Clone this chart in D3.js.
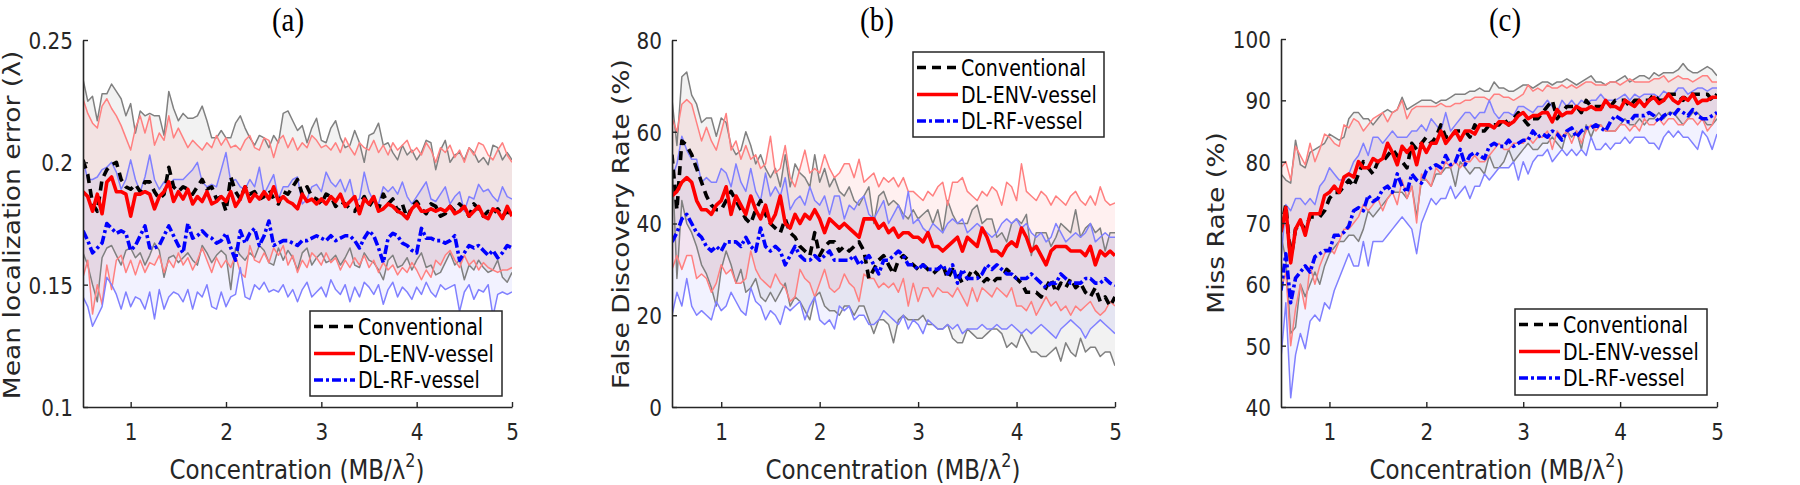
<!DOCTYPE html>
<html lang="en">
<head>
<meta charset="UTF-8">
<title>Localization error, FDR and miss rate</title>
<style>
  body { margin: 0; background: #fff; }
  svg { display: block; }
</style>
</head>
<body>
<svg id="SVG"></svg>
<script src="https://d3js.org/d3.v7.min.js"></script>
<script>
// concentration grid (MB/λ²), one value every 0.05
var conc = [
  0.50,0.55,0.60,0.65,0.70,0.75,0.80,0.85,0.90,0.95,
  1.00,1.05,1.10,1.15,1.20,1.25,1.30,1.35,1.40,1.45,
  1.50,1.55,1.60,1.65,1.70,1.75,1.80,1.85,1.90,1.95,
  2.00,2.05,2.10,2.15,2.20,2.25,2.30,2.35,2.40,2.45,
  2.50,2.55,2.60,2.65,2.70,2.75,2.80,2.85,2.90,2.95,
  3.00,3.05,3.10,3.15,3.20,3.25,3.30,3.35,3.40,3.45,
  3.50,3.55,3.60,3.65,3.70,3.75,3.80,3.85,3.90,3.95,
  4.00,4.05,4.10,4.15,4.20,4.25,4.30,4.35,4.40,4.45,
  4.50,4.55,4.60,4.65,4.70,4.75,4.80,4.85,4.90,4.95,
  5.00];

// ---------- (a) mean localization error (λ) ----------
var locConv = [
  0.201,0.195,0.183,0.180,0.193,0.197,0.199,0.200,0.193,0.190,
  0.189,0.191,0.188,0.192,0.192,0.188,0.185,0.187,0.198,0.190,
  0.188,0.190,0.189,0.187,0.190,0.193,0.189,0.190,0.185,0.186,
  0.180,0.194,0.188,0.185,0.190,0.187,0.188,0.185,0.186,0.189,
  0.185,0.183,0.188,0.187,0.190,0.193,0.187,0.190,0.186,0.185,
  0.183,0.187,0.186,0.182,0.184,0.183,0.181,0.180,0.183,0.186,
  0.182,0.185,0.181,0.187,0.183,0.185,0.180,0.183,0.177,0.182,
  0.184,0.181,0.179,0.183,0.182,0.178,0.179,0.182,0.180,0.183,
  0.181,0.178,0.183,0.181,0.178,0.180,0.179,0.181,0.178,0.180,
  0.178];
var locConvHi = [
  0.234,0.225,0.227,0.217,0.228,0.228,0.232,0.229,0.226,0.219,
  0.224,0.212,0.221,0.219,0.220,0.219,0.219,0.211,0.229,0.222,
  0.217,0.220,0.218,0.218,0.219,0.223,0.217,0.210,0.210,0.213,
  0.210,0.210,0.216,0.219,0.214,0.210,0.207,0.211,0.210,0.206,
  0.211,0.208,0.220,0.221,0.217,0.213,0.215,0.208,0.214,0.218,
  0.209,0.208,0.214,0.217,0.210,0.206,0.207,0.213,0.208,0.200,
  0.211,0.212,0.216,0.207,0.208,0.204,0.201,0.207,0.203,0.205,
  0.201,0.204,0.209,0.208,0.197,0.205,0.209,0.200,0.203,0.204,
  0.201,0.206,0.204,0.200,0.202,0.199,0.207,0.206,0.201,0.204,
  0.201];
var locConvLo = [
  0.163,0.158,0.150,0.143,0.161,0.165,0.166,0.162,0.158,0.164,
  0.165,0.161,0.163,0.158,0.162,0.167,0.164,0.153,0.161,0.162,
  0.159,0.161,0.163,0.160,0.158,0.166,0.163,0.159,0.162,0.164,
  0.162,0.148,0.165,0.162,0.160,0.163,0.161,0.166,0.164,0.159,
  0.158,0.165,0.160,0.164,0.161,0.156,0.163,0.165,0.158,0.161,
  0.163,0.159,0.160,0.162,0.158,0.161,0.165,0.158,0.157,0.163,
  0.160,0.159,0.156,0.152,0.160,0.162,0.157,0.158,0.161,0.156,
  0.160,0.163,0.157,0.158,0.154,0.155,0.159,0.163,0.158,0.160,
  0.152,0.158,0.156,0.160,0.157,0.155,0.156,0.160,0.153,0.151,
  0.155];
var locEnv = [
  0.188,0.186,0.180,0.187,0.179,0.192,0.194,0.188,0.188,0.187,
  0.178,0.187,0.187,0.188,0.187,0.181,0.186,0.188,0.192,0.184,
  0.188,0.185,0.189,0.183,0.186,0.184,0.188,0.183,0.184,0.186,
  0.184,0.188,0.182,0.185,0.190,0.184,0.187,0.185,0.188,0.185,
  0.190,0.184,0.186,0.184,0.183,0.181,0.187,0.184,0.185,0.183,
  0.185,0.183,0.186,0.184,0.187,0.182,0.184,0.186,0.179,0.185,
  0.183,0.186,0.180,0.181,0.183,0.182,0.180,0.179,0.177,0.181,
  0.183,0.180,0.180,0.181,0.180,0.181,0.180,0.182,0.179,0.180,
  0.182,0.178,0.180,0.182,0.178,0.177,0.181,0.180,0.177,0.182,
  0.178];
var locEnvHi = [
  0.226,0.220,0.216,0.214,0.223,0.226,0.222,0.219,0.215,0.210,
  0.205,0.214,0.219,0.212,0.219,0.207,0.212,0.209,0.219,0.210,
  0.214,0.210,0.206,0.209,0.207,0.205,0.208,0.206,0.211,0.207,
  0.210,0.206,0.207,0.205,0.209,0.211,0.206,0.205,0.210,0.209,
  0.202,0.209,0.211,0.206,0.210,0.205,0.208,0.206,0.211,0.209,
  0.206,0.207,0.205,0.208,0.204,0.210,0.206,0.203,0.208,0.206,
  0.205,0.209,0.204,0.207,0.203,0.208,0.205,0.207,0.209,0.204,
  0.206,0.203,0.208,0.205,0.200,0.206,0.204,0.207,0.202,0.205,
  0.200,0.206,0.203,0.208,0.207,0.203,0.201,0.205,0.208,0.203,
  0.200];
var locEnvLo = [
  0.153,0.160,0.138,0.150,0.142,0.158,0.148,0.160,0.162,0.155,
  0.160,0.154,0.160,0.155,0.159,0.158,0.162,0.155,0.160,0.157,
  0.163,0.158,0.161,0.156,0.160,0.165,0.160,0.155,0.161,0.157,
  0.160,0.157,0.162,0.155,0.153,0.166,0.160,0.159,0.163,0.159,
  0.165,0.162,0.166,0.158,0.162,0.155,0.160,0.157,0.163,0.161,
  0.158,0.163,0.159,0.161,0.156,0.160,0.157,0.161,0.158,0.162,
  0.157,0.160,0.155,0.159,0.156,0.158,0.154,0.157,0.155,0.159,
  0.156,0.152,0.156,0.153,0.160,0.158,0.162,0.164,0.160,0.157,
  0.162,0.158,0.160,0.156,0.159,0.157,0.156,0.155,0.156,0.156,
  0.157];
var locRf = [
  0.172,0.168,0.163,0.165,0.167,0.175,0.173,0.171,0.172,0.171,
  0.164,0.166,0.170,0.174,0.165,0.165,0.166,0.170,0.174,0.170,
  0.166,0.163,0.175,0.169,0.170,0.172,0.170,0.169,0.167,0.168,
  0.171,0.165,0.160,0.172,0.167,0.171,0.173,0.166,0.170,0.176,
  0.166,0.167,0.168,0.168,0.167,0.166,0.168,0.168,0.169,0.170,
  0.169,0.168,0.170,0.168,0.169,0.170,0.170,0.168,0.165,0.169,
  0.172,0.170,0.165,0.159,0.169,0.171,0.170,0.167,0.166,0.164,
  0.163,0.173,0.169,0.169,0.168,0.168,0.167,0.168,0.170,0.160,
  0.163,0.166,0.165,0.166,0.164,0.162,0.164,0.161,0.163,0.166,
  0.165];
var locRfHi = [
  0.201,0.193,0.193,0.194,0.197,0.198,0.200,0.196,0.189,0.193,
  0.201,0.193,0.188,0.194,0.203,0.193,0.189,0.192,0.190,0.193,
  0.193,0.193,0.195,0.197,0.200,0.192,0.190,0.191,0.190,0.197,
  0.204,0.192,0.193,0.190,0.189,0.193,0.190,0.198,0.187,0.191,
  0.195,0.185,0.190,0.190,0.193,0.194,0.183,0.185,0.190,0.191,
  0.188,0.196,0.192,0.190,0.193,0.188,0.193,0.184,0.185,0.196,
  0.188,0.184,0.183,0.190,0.188,0.190,0.187,0.192,0.186,0.183,
  0.186,0.189,0.192,0.185,0.184,0.187,0.190,0.183,0.186,0.188,
  0.180,0.186,0.185,0.191,0.188,0.189,0.186,0.184,0.190,0.186,
  0.185];
var locRfLo = [
  0.145,0.141,0.133,0.137,0.141,0.153,0.150,0.146,0.140,0.147,
  0.141,0.145,0.144,0.140,0.147,0.136,0.148,0.140,0.145,0.147,
  0.146,0.143,0.148,0.140,0.147,0.145,0.150,0.141,0.140,0.147,
  0.141,0.145,0.146,0.157,0.145,0.144,0.150,0.148,0.151,0.147,
  0.148,0.147,0.150,0.145,0.148,0.143,0.148,0.151,0.145,0.147,
  0.149,0.145,0.152,0.148,0.146,0.150,0.143,0.149,0.145,0.151,
  0.149,0.146,0.150,0.142,0.148,0.151,0.145,0.149,0.147,0.144,
  0.149,0.146,0.151,0.147,0.145,0.150,0.148,0.149,0.150,0.139,
  0.147,0.150,0.144,0.148,0.147,0.150,0.137,0.146,0.147,0.146,
  0.147];

// ---------- (b) false discovery rate (%) ----------
var fdrConv = [
  55,43,58,57,55,52,49,46,44,43,
  43,45,47,45,43,41,40,43,45,42,
  40,39,38,41,38,37,35,34,33,38,
  33,35,36,36,34,35,34,35,36,34,
  28,30,32,33,31,29,32,33,32,31,
  30,31,30,29,30,31,28,30,29,27,
  28,30,29,27,28,27,28,28,30,29,
  28,27,25,25,25,24,26,28,25,27,
  26,28,26,27,25,24,26,23,24,22,
  24];
var fdrConvHi = [
  67,57,72,73,68,66,62,63,63,59,
  63,62,57,55,56,60,57,53,55,52,
  50,52,48,55,48,53,51,50,48,55,
  49,52,48,50,47,46,48,45,44,46,
  48,40,46,47,44,45,44,42,41,43,
  41,42,43,40,43,38,45,42,40,40,
  40,43,44,40,41,41,37,38,36,40,
  41,40,42,33,38,38,38,35,37,40,
  39,38,43,37,39,40,38,39,34,38,
  38];
var fdrConvLo = [
  55,28,45,40,38,35,31,29,26,22,
  30,34,31,27,30,25,26,28,24,23,
  25,23,25,27,22,24,23,21,19,24,
  25,22,21,21,20,22,22,20,22,22,
  19,16,19,19,18,14,19,20,19,19,
  19,20,18,18,17,17,18,15,14,14,
  17,16,15,15,16,17,17,16,13,14,
  13,16,14,12,12,11,11,12,13,10,
  14,12,11,15,12,13,13,11,12,12,
  9];
var fdrEnv = [
  46,47,49,50,49,45,43,43,42,44,
  45,48,42,46,44,42,46,43,41,44,
  40,42,46,40,39,42,40,42,41,43,
  41,38,41,40,39,40,39,38,37,41,
  41,41,39,40,38,39,37,38,38,37,
  37,36,38,35,35,34,35,36,37,34,
  37,36,35,39,37,34,34,33,35,36,
  35,39,37,34,35,33,31,34,35,35,
  35,34,34,34,33,35,31,34,33,34,
  33];
var fdrEnvHi = [
  63,60,66,67,66,62,58,61,58,56,
  60,64,56,58,54,57,54,55,52,53,
  59,51,52,57,50,48,52,56,51,52,
  51,55,52,50,51,53,53,50,54,49,
  50,51,48,50,49,50,48,50,47,47,
  46,45,47,46,48,49,44,49,49,50,
  47,46,45,47,46,48,47,44,49,48,
  45,53,47,46,45,47,46,44,46,45,
  44,46,47,45,44,46,44,48,45,44,
  44.5];
var fdrEnvLo = [
  30,33,30,33,33,28,29,28,25,27,
  31,29,30,27,27,28,34,30,28,27,
  26,29,27,26,23,24,30,28,27,24,
  27,30,26,25,26,29,27,26,23,29,
  28,28,26,27,26,27,25,28,22,27,
  23,26,26,24,26,25,25,24,26,24,
  22,26,23,26,25,24,26,25,24,26,
  22,22,21,23,20,22,24,22,23,21,
  22,20,22,21,22,23,21,20,21,23,
  22];
var fdrRf = [
  36,38,41,42,40,38,37,35,34,35,
  34,36,36,36,35,37,35,34,39,35,
  34,35,34,31,33,35,33,32,32,33,
  32,33,34,32,32,32,32,33,31,32,
  33,31,29,32,32,33,34,33,31,31,
  30,31,30,30,30,31,29,31,27,30,
  28,28,28,29,31,30,31,30,29,29,
  28,28,28,29,28,27,26,27,27,29,
  28,27,27,27,28,28,27,27,28,27,
  26.5];
var fdrRfHi = [
  50,53,59,56,54,54,49,50,49,49,
  52,51,48,53,49,47,52,47,45,51,
  46,48,46,50,43,45,46,44,48,45,
  44,46,42,46,46,41,44,43,45,46,
  42,41,43,45,40,42,44,41,47,40,
  41,39,38,40,39,38,40,41,40,41,
  38,39,40,39,38,37,38,40,41,40,
  41,39,40,38,37,38,36,37,40,38,
  36,37,38,37,38,40,36,37,38,37,
  37];
var fdrRfLo = [
  20,25,22,28,22,20,21,20,19,23,
  21,22,25,23,21,20,26,23,22,19,
  21,20,18,22,21,22,23,19,22,24,
  19,18,19,17,22,21,22,19,20,20,
  18,18,19,21,20,19,18,20,17,19,
  18,16,19,18,17,17,18,17,18,16,
  17,17,17,18,17,17,18,17,17,18,
  17,16,17,16,17,18,17,16,15,17,
  18,19,18,17,15,17,18,19,18,17,
  16];

// ---------- (c) miss rate (%) ----------
var missConv = [
  69,73,64,69,70,69,71,71,71,72,
  74,75,75,76,77,76,78,80,79,78,
  80,80,81,82,81,80,79,83,82,83,
  84,83,84,86,84,84,85,85,85,84,
  86,85,85,86,86,86,87,86,87,88,
  87,86,87,87,88,89,90,87,88,89,
  89,89,88,90,89,89,89,89,89,90,
  90,90,89,90,90,90,90,91,90,90,
  91,91,91,90,91,91,91,91,91,90,
  91];
var missConvHi = [
  78,77,76.5,83.5,79.5,79,81.5,82,82.5,83,
  84.5,84,83.5,84,87,88,88,87,87,86,
  87,88,88.5,88,88.5,90.5,88.5,89,89.5,90,
  90,90,89.5,90,90,90.5,91,91,91,91.5,
  91.5,92,91.5,91.5,93,92,92,91.5,91.5,92,
  92.5,92.5,92,92.5,93,93,92.5,93,93,93.5,
  93,92.5,93,93.5,94,93,93,92.5,93,93,
  93.5,94,93,93.5,94,94,93.5,94.5,94,94.5,
  94.5,94.5,95,96,95,94.5,94.5,95,95.5,95,
  94];
var missConvLo = [
  68,64,52,53,60,58,60,62,60,63,
  65,66,67,67,68,68,67,69,72,71,
  72,73,74,75,75,75,74,76,71,77,
  77,76,78,78,79,79,76,80,79,78,
  79,79,78,81,79,79,80,82,80,81,
  82,83,82,82,83,83,84,83,82,85,
  84,85,82,86,84,86,86,85,85,85,
  86,87,86,86,87,86,87,87,88,87,
  88,88,87,86,87,88,88,87,86,86,
  87];
var missEnv = [
  68.5,72.5,63.5,69,70.5,68,71.5,71.5,71.5,74.5,
  75,76,75,77.5,78,77.5,80,79,79,80.5,
  80,80.5,83,81.5,79.5,82.5,81.5,82.5,79.5,83,
  81.5,83,83,85,83,84,85,83.5,85,85,
  84.5,86,86,86,85.5,86.5,86.5,86,86.5,87.5,
  88,87,87.5,87.5,88,88,86.5,88.5,87.5,88,
  88,89,88.5,88.5,89,88.5,88.5,90,89,89,
  88.5,90,89.5,89,90,89,90,90.5,89.5,90,
  91,90,89.5,90.5,90,91,89.5,90,90,90.5,
  90.5];
var missEnvHi = [
  79,80,77,82.5,81,79.5,83,80,82,84.5,
  84,83,82.5,86,85.5,87,86.5,85,86,87,
  87.5,88,86.5,88,88.5,90,87,88.5,89,89,
  89,89,89,89.5,89,89,89.5,89.5,90,90,
  90.5,90.5,90.5,90,91,91,90.5,90.5,90,90.5,
  91,92.5,91.5,92,91.5,92.5,92,92,92.5,92,
  92.5,92,92.5,93,93,92.5,92.5,92.5,93,93,
  92.5,93,93.5,93,93,93,93,93.5,93.5,94,
  93,93.5,94,93.5,93.5,93,93.5,94,94,93,
  93];
var missEnvLo = [
  59,62,50,56,60,56,63,60,63,65,
  66,65,67,69,69,70,71,73,72,73,
  74,72,74,75,73,77,74,76,70,78,
  77,76,79,78,80,79,80,79,80,80,
  81,80,80,81,82,83,82,82,83,83,
  83,84,83,84,84,85,82,85,84,85,
  83,85,83,85,86,85,86,85,85,85,
  86,86,85,86,85,87,86,86,87,86,
  87,87,86,86,87,87,86,87,85,86,
  88];
var missRf = [
  59,65,57,61,62,63,62,64.5,65,65.5,
  65.5,68,68,68.5,69.5,72,72.5,72,74.5,73.5,
  74,75.5,76,75,78,76,75,78,77,76.5,
  78.5,79,79.5,79,81,79.5,80,82,79.5,81,
  81.5,81,80.5,82.5,83,82.5,82.5,83.5,82.5,83,
  83.5,83.5,85,84,84.5,84,85,84.5,83.5,85,
  85.5,84,85,85.5,85.5,86,85.5,85,86.5,87.5,
  87,86.5,86.5,87.5,87.5,87.5,88,87.5,86.5,87.5,
  88,87.5,88.5,88,87.5,88.5,87.5,87,87,87.5,
  88];
var missRfHi = [
  64,73,72,74,74,73,74,73,76,77,
  79,78,77,77,78,80,81,83,81,84,
  84,83,84,85,84,84,84,85,85,86,
  85,87,86,85,88,85,86,87,88,88,
  87,88,88,90,88,87,88,88,87.5,89,
  89,88.5,88,89,89,90,89,88,90,89,
  90,89,90,89.5,90,90,91,90,90,90,
  90.5,91,90,91,90.5,91,91,91,90.5,91.5,
  91,91,92,92,91,91.5,92,92,91.5,92,
  92];
var missRfLo = [
  48,57,41.5,48.5,52,49.5,54,55,54,57,
  56,59,61,63,65,63,63,67,63,67,
  67,67,68,69,70,71,70,69,65,70,
  72,74,73,74,74,76,74,75,76,74,
  76,76,78,77,78,79,79,79,80,77,
  80,78,80,81,81,82,80,81,82,81,
  82,81,82,81,84,82,82,83,82,83,
  83,84,83,84,84,84,83,83,82,84,
  85,84,85,84,84,83,82,85,84,82,
  84.5];

// tick labels and texts
var xTicks = [1, 2, 3, 4, 5];
var yTicksA = [0.1, 0.15, 0.2, 0.25];
var yTicksB = [0, 20, 40, 60, 80];
var yTicksC = [40, 50, 60, 70, 80, 90, 100];
var methodNames = ["Conventional", "DL-ENV-vessel", "DL-RF-vessel"];
var panelTitles = ["(a)", "(b)", "(c)"];
var yAxisLabels = ["Mean localization error (λ)", "False Discovery Rate (%)", "Miss Rate (%)"];

// ---------- drawing ----------
var SY = 1.18;            // the exported figure is stretched vertically, text too
var ink = "#262626";

var styles = [
    { mean: "#000000", bound: "#808080", fill: "#808080", op: 0.10, dash: "9,6" },
    { mean: "#ff0000", bound: "#ff8080", fill: "#ff0000", op: 0.06, dash: null },
    { mean: "#0000ff", bound: "#8080ff", fill: "#0000ff", op: 0.05, dash: "9,3,3,3" }
];

var panels = [
    { left: 83, right: 512, top: 40, bottom: 407, domain: [0.1, 0.25], ticks: yTicksA,
      titleX: 288, xLabelX: 297, yLabelX: 20, yLabelY: 225,
      legend: { x: 310, y: 311, w: 192, h: 85 },
      series: [[locConv, locConvLo, locConvHi], [locEnv, locEnvLo, locEnvHi], [locRf, locRfLo, locRfHi]] },
    { left: 672, right: 1115, top: 40, bottom: 407, domain: [0, 80], ticks: yTicksB,
      titleX: 877, xLabelX: 893, yLabelX: 629, yLabelY: 224,
      legend: { x: 913, y: 52, w: 191, h: 85 },
      series: [[fdrConv, fdrConvLo, fdrConvHi], [fdrEnv, fdrEnvLo, fdrEnvHi], [fdrRf, fdrRfLo, fdrRfHi]] },
    { left: 1281, right: 1717, top: 39, bottom: 407, domain: [40, 100], ticks: yTicksC,
      titleX: 1505, xLabelX: 1497, yLabelX: 1224, yLabelY: 223,
      legend: { x: 1515, y: 309, w: 192, h: 86 },
      series: [[missConv, missConvLo, missConvHi], [missEnv, missEnvLo, missEnvHi], [missRf, missRfLo, missRfHi]] }
];

var svg = d3.select("#SVG")
    .attr("width", 1800)
    .attr("height", 485)
    .style("font-family", "'DejaVu Sans', sans-serif");

panels.forEach(function (p, k) {
    var x = d3.scaleLinear().domain([0.5, 5]).range([p.left, p.right]);
    var y = d3.scaleLinear().domain(p.domain).range([p.bottom, p.top]);

    var g = svg.append("g");

    g.append("clipPath").attr("id", "clip" + k)
        .append("rect")
        .attr("x", p.left).attr("y", p.top)
        .attr("width", p.right - p.left).attr("height", p.bottom - p.top);

    var plot = g.append("g").attr("clip-path", "url(#clip" + k + ")");

    var area = d3.area()
        .x((d, i) => x(conc[i]))
        .y0(d => y(d[0]))
        .y1(d => y(d[1]));
    var line = d3.line()
        .x((d, i) => x(conc[i]))
        .y(d => y(d));

    // shaded bands first
    p.series.forEach(function (s, j) {
        plot.append("path")
            .datum(d3.zip(s[1], s[2]))
            .attr("d", area)
            .attr("fill", styles[j].fill)
            .attr("fill-opacity", styles[j].op)
            .attr("stroke", "none");
    });

    // thin upper / lower bounds
    p.series.forEach(function (s, j) {
        [s[1], s[2]].forEach(function (b) {
            plot.append("path")
                .datum(b)
                .attr("d", line)
                .attr("fill", "none")
                .attr("stroke", styles[j].bound)
                .attr("stroke-width", 1.5)
                .attr("stroke-linejoin", "round");
        });
    });

    // mean curves
    p.series.forEach(function (s, j) {
        plot.append("path")
            .datum(s[0])
            .attr("d", line)
            .attr("fill", "none")
            .attr("stroke", styles[j].mean)
            .attr("stroke-width", 3.6)
            .attr("stroke-dasharray", styles[j].dash)
            .attr("stroke-linejoin", "round");
    });

    // axes, ticks pointing inward like matlab
    var axX = g.append("g")
        .attr("transform", `translate(0,${p.bottom})`)
        .call(d3.axisBottom(x).tickValues(xTicks).tickSizeInner(-5).tickSizeOuter(0).tickPadding(14)
            .tickFormat(d3.format("d")));
    var axY = g.append("g")
        .attr("transform", `translate(${p.left},0)`)
        .call(d3.axisLeft(y).tickValues(p.ticks).tickSizeInner(-5).tickSizeOuter(0).tickPadding(10)
            .tickFormat(d => String(d)));

    [axX, axY].forEach(function (ax) {
        ax.select(".domain").attr("stroke", ink).attr("stroke-width", 1.6);
        ax.selectAll(".tick line").attr("stroke", ink).attr("stroke-width", 1.4);
        ax.selectAll(".tick text")
            .attr("fill", ink)
            .attr("font-size", 20)
            .attr("font-family", "'DejaVu Sans', sans-serif")
            .attr("transform", `scale(1,${SY})`);
    });
    axY.selectAll(".tick text").attr("dy", "0.36em");

    // title
    g.append("text")
        .attr("transform", `translate(${p.titleX},31) scale(1,${SY})`)
        .attr("text-anchor", "middle")
        .attr("font-family", "'Liberation Serif', 'Times New Roman', serif")
        .attr("font-size", 29)
        .attr("fill", "#000")
        .text(panelTitles[k]);

    // x label with superscript
    var xl = g.append("text")
        .attr("transform", `translate(${p.xLabelX},479) scale(1,${SY})`)
        .attr("text-anchor", "middle")
        .attr("font-size", 23)
        .attr("fill", ink);
    xl.append("tspan").text("Concentration (MB/λ");
    xl.append("tspan").attr("font-size", 16).attr("dy", -10).text("2");
    xl.append("tspan").attr("dy", 10).text(")");

    // y label
    g.append("text")
        .attr("transform", `translate(${p.yLabelX},${p.yLabelY}) scale(1,${SY}) rotate(-90)`)
        .attr("text-anchor", "middle")
        .attr("font-size", 22.5)
        .attr("fill", ink)
        .text(yAxisLabels[k]);

    // legend
    var L = p.legend;
    var lg = g.append("g");
    lg.append("rect")
        .attr("x", L.x).attr("y", L.y).attr("width", L.w).attr("height", L.h)
        .attr("fill", "#fff").attr("stroke", ink).attr("stroke-width", 1.5);
    var rowY = [15.5, 42.5, 69];
    methodNames.forEach(function (name, j) {
        var cy = L.y + rowY[j];
        lg.append("line")
            .attr("x1", L.x + 4).attr("x2", L.x + 45)
            .attr("y1", cy).attr("y2", cy)
            .attr("stroke", styles[j].mean)
            .attr("stroke-width", 3.6)
            .attr("stroke-dasharray", styles[j].dash);
        lg.append("text")
            .attr("transform", `translate(${L.x + 48},${cy}) scale(1,${SY})`)
            .attr("dy", "0.36em")
            .attr("font-size", 19)
            .attr("fill", "#000")
            .text(name);
    });
});
</script>
</body>
</html>
